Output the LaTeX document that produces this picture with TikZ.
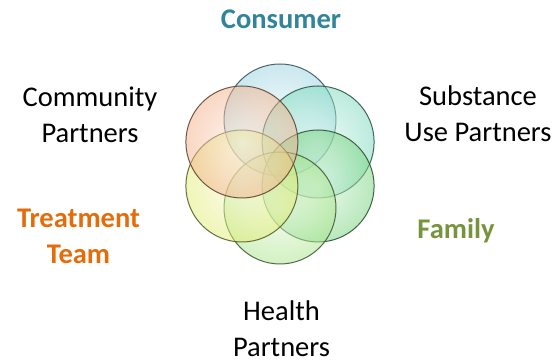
\documentclass[tikz,border=0pt]{standalone}
\usepackage{fontspec}
\setmainfont{Carlito}
\usetikzlibrary{positioning,shapes}
\definecolor{consumerblue}{HTML}{31849B}
\definecolor{treatorange}{HTML}{E46C0A}
\definecolor{familygreen}{HTML}{77933C}
\definecolor{bubblesky}{HTML}{96D2E0}
\definecolor{bubblepeach}{HTML}{F4B088}
\definecolor{bubbleteal}{HTML}{78D8BC}
\definecolor{bubbleyellow}{HTML}{E2EC70}
\definecolor{bubblegreen}{HTML}{72D27A}
\definecolor{bubblelime}{HTML}{A8E488}
\tikzset{
    %Define bubble and label styles
    bubble/.style={
      circle,
      minimum size=112pt,
      inner sep=0pt,
      draw=#1!40!black, line width=1pt,
      inner color=#1!25!white,
      outer color=#1,
      fill opacity=0.5,
      draw opacity=0.9},
    lbl/.style={
      font=\fontsize{28.5}{36}\selectfont,
      align=center,
      inner sep=0pt,
      anchor=base},
    boldlbl/.style={
      lbl,
      font=\bfseries\fontsize{28.5}{36}\selectfont}
}
\begin{document}
\begin{tikzpicture}[x=1pt,y=1pt]
\useasboundingbox (0,0) rectangle (557,363);
\coordinate (hub) at (280,199);
\foreach \ang/\col/\nm in {90/bubblesky/cCons, 30/bubbleteal/cSubst, 330/bubblegreen/cFam,
  270/bubblelime/cHealth, 210/bubbleyellow/cTreat, 150/bubblepeach/cComm}
  \node [bubble=\col] (\nm) at ([shift={(\ang:44)}]hub) {};
% base anchor of two-line labels sits on the lower line
\node [boldlbl, text=consumerblue] (consumer) at (281,334.7) {Consumer};
\node [lbl] (community) at (90,220.3) {Community\\Partners};
\node [lbl] (substance) at (478,221.3) {Substance\\Use Partners};
\node [boldlbl, text=treatorange] (treatment) at (78.5,99.7) {Treatment\\Team};
\node [boldlbl, text=familygreen] (family) at (456,124.7) {Family};
\node [lbl] (health) at (281.5,6) {Health\\Partners};
\end{tikzpicture}
\end{document}
